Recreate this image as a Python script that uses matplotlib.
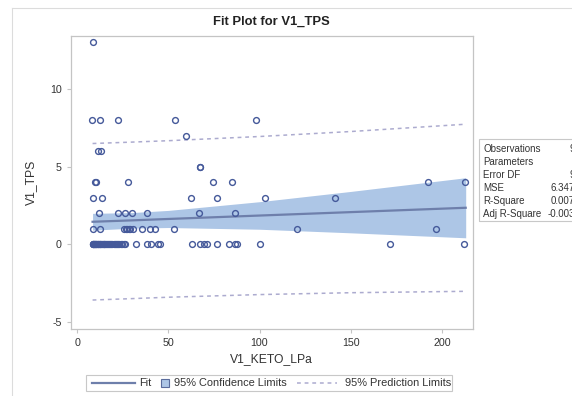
import matplotlib
matplotlib.use("Agg")
import matplotlib.pyplot as plt
from matplotlib.lines import Line2D
from matplotlib.patches import Rectangle

plt.rcParams["font.family"] = ["Liberation Sans", "DejaVu Sans"]
plt.rcParams["axes.unicode_minus"] = False

# observed points (V1_KETO_LPa, V1_TPS)
x_obs = [9.0,
         8.4, 12.4, 22.5, 53.8, 97.8,
         59.9,
         11.4, 13.2,
         67.3, 67.6,
         10.0, 10.3, 27.7, 74.4, 84.8, 192.6, 212.8,
         8.7, 13.6, 62.5, 76.6, 103.1, 141.4,
         12.2, 22.7, 26.4, 30.0, 38.6, 66.9, 86.7,
         8.5, 12.7, 25.5, 26.6, 27.3, 28.4, 29.1, 30.6, 35.5, 40.1, 42.5, 53.2, 120.8, 196.8,
         8.5, 8.7, 9.0, 9.2, 9.5, 9.8, 10.0, 10.3, 10.6, 11.0, 11.3, 11.6, 12.0,
         12.4, 12.8, 13.2, 13.6, 14.0, 14.5, 15.0, 15.5, 16.0, 16.5, 17.0, 17.6,
         18.2, 18.8, 19.4, 20.0, 20.6, 21.2, 21.8, 22.5, 23.2, 24.0, 24.8, 25.6, 26.4,
         32.4, 38.3, 40.4, 44.3, 45.6, 62.9, 67.5, 69.3, 71.2, 76.6, 83.0, 86.7,
         87.6, 100.4, 171.6, 212.3]
y_obs = [13,
         8, 8, 8, 8, 8,
         7,
         6, 6,
         5, 5,
         4, 4, 4, 4, 4, 4, 4,
         3, 3, 3, 3, 3, 3,
         2, 2, 2, 2, 2, 2, 2,
         1, 1, 1, 1, 1, 1, 1, 1, 1, 1, 1, 1, 1, 1,
         0, 0, 0, 0, 0, 0, 0, 0, 0, 0, 0, 0, 0,
         0, 0, 0, 0, 0, 0, 0, 0, 0, 0, 0, 0,
         0, 0, 0, 0, 0, 0, 0, 0, 0, 0, 0, 0, 0,
         0, 0, 0, 0, 0, 0, 0, 0, 0, 0, 0, 0,
         0, 0, 0, 0]

# fit line and limits, read at a few x positions
x_fit = [8.5, 30, 50, 100, 150, 213]
y_fit = [1.46, 1.55, 1.64, 1.86, 2.08, 2.36]
cl_lo = [0.92, 1.05, 1.09, 0.98, 0.75, 0.43]
cl_hi = [2.00, 2.05, 2.19, 2.75, 3.41, 4.29]
pl_lo = [-3.57, -3.48, -3.39, -3.22, -3.10, -3.01]
pl_hi = [6.49, 6.58, 6.67, 6.94, 7.26, 7.73]

stat_names = ["Observations", "Parameters", "Error DF", "MSE", "R-Square", "Adj R-Square"]
stat_vals = ["99", "2", "97", "6.3471", "0.0071", "-0.0031"]
legend_labels = ["Fit", "95% Confidence Limits", "95% Prediction Limits"]

W, H = 572, 396
fig = plt.figure(figsize=(W / 100, H / 100), dpi=100)
ax = fig.add_axes([70.5 / W, 1 - 328.5 / H, 402.5 / W, 292.5 / H])

marker_c = "#45599a"
band_c = "#adc6e6"
fit_c = "#6e7fab"
pred_c = "#acabcf"
frame_c = "#c4c4c4"
text_c = "#333333"
pred_ls = (0, (2.5, 2.5))


def px(x, y):
    # figure pixel (from top-left) -> figure fraction
    return x / W, 1 - y / H


ax.fill_between(x_fit, cl_lo, cl_hi, color=band_c, lw=0, zorder=1)
ax.plot(x_fit, y_fit, color=fit_c, lw=1.6, zorder=2)
ax.plot(x_fit, pl_lo, color=pred_c, lw=1.1, ls=pred_ls, zorder=2)
ax.plot(x_fit, pl_hi, color=pred_c, lw=1.1, ls=pred_ls, zorder=2)
ax.plot(x_obs, y_obs, "o", mfc="none", mec=marker_c, ms=4.2, mew=1.0, zorder=3)

ax.set_xlim(-3.6, 217)
ax.set_ylim(-5.4, 13.4)
ax.set_xticks([0, 50, 100, 150, 200])
ax.set_yticks([-5, 0, 5, 10])
for s in ax.spines.values():
    s.set_color(frame_c)
    s.set_linewidth(0.9)
ax.tick_params(colors=frame_c, labelcolor=text_c, labelsize=7.7, length=3, width=0.8)
ax.set_xlabel("V1_KETO_LPa", fontsize=8.7, color=text_c, labelpad=4)
ax.set_ylabel("V1_TPS", fontsize=8.7, color=text_c, labelpad=9)
fig.text(*px(271, 22), "Fit Plot for V1_TPS", ha="center", va="center",
         fontsize=9.4, fontweight="bold", color="#222222")

# outer graph border
fig.add_artist(Line2D([12 / W, 12 / W], [0, 1 - 8 / H], color="#dcdcdc", lw=0.8))
fig.add_artist(Line2D([12 / W, 1], [1 - 8 / H, 1 - 8 / H], color="#dcdcdc", lw=0.8))

# statistics box
fig.add_artist(Rectangle(px(479, 221), 0.2, 82 / H, transform=fig.transFigure,
                         fill=False, ec="#c8c8c8", lw=0.8))
for i, (n, v) in enumerate(zip(stat_names, stat_vals)):
    yy = 149 + i * 13
    fig.text(*px(483, yy), n, ha="left", va="center", fontsize=7.0, color=text_c)
    fig.text(*px(580, yy), v, ha="right", va="center", fontsize=7.0, color=text_c)

# legend at the bottom
fig.add_artist(Rectangle(px(86, 391), 366 / W, 16 / H, transform=fig.transFigure,
                         fill=False, ec="#c8c8c8", lw=0.8))
ly = 383
lfs = 7.9
fig.add_artist(Line2D([92 / W, 135 / W], [1 - ly / H] * 2, color=fit_c, lw=1.6))
fig.text(*px(139, ly), legend_labels[0], ha="left", va="center", fontsize=lfs, color=text_c)
fig.add_artist(Rectangle(px(161, ly + 4), 8 / W, 8 / H, transform=fig.transFigure,
                         fc=band_c, ec="#5a6c9c", lw=0.8))
fig.text(*px(174, ly), legend_labels[1], ha="left", va="center", fontsize=lfs, color=text_c)
fig.add_artist(Line2D([297 / W, 337 / W], [1 - ly / H] * 2, color=pred_c, lw=1.1, ls=pred_ls))
fig.text(*px(345, ly), legend_labels[2], ha="left", va="center", fontsize=lfs, color=text_c)

fig.savefig("out.png", dpi=100)
